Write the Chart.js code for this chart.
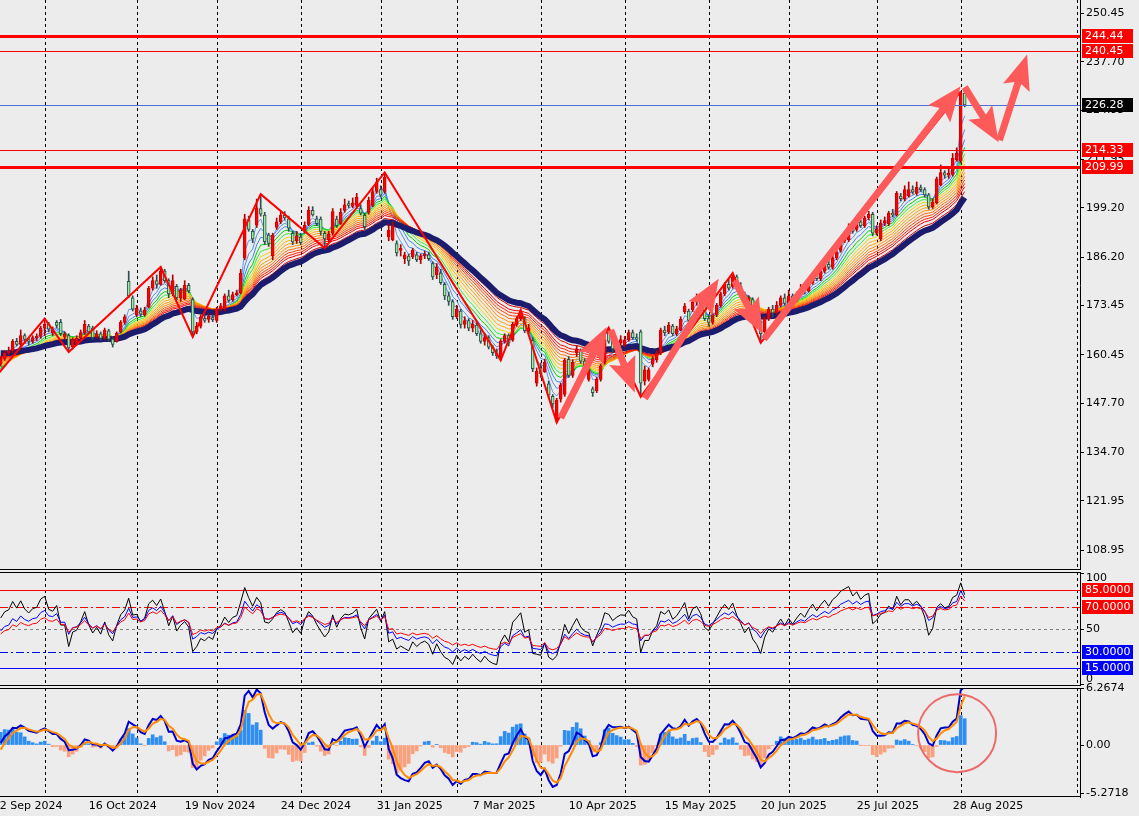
<!DOCTYPE html>
<html>
<head>
<meta charset="utf-8">
<script src="https://cdn.jsdelivr.net/npm/chart.js@4.4.1/dist/chart.umd.min.js"></script>
<style>
  html, body { margin: 0; padding: 0; background: #ececec; }
  body { width: 1139px; height: 816px; position: relative; overflow: hidden; }
  .pane { position: absolute; left: 0; width: 1139px; }
  #pMain { top: 0; height: 570px; }
  #pRsi { top: 564px; height: 122px; }
  #pMacd { top: 680px; height: 136px; }
</style>
</head>
<body>
<div class="pane" id="pMain"><canvas id="cMain"></canvas></div>
<div class="pane" id="pRsi"><canvas id="cRsi"></canvas></div>
<div class="pane" id="pMacd"><canvas id="cMacd"></canvas></div>
<script>
// closes before the first visible bar (only feed the averages)
const historyCloses = [167,168,166.5,167.5,169,170,168.5,167,166,167.5,168.5,167,165.5,164,165.5,166.5,165,164,165,166,
  165.5,164.5,163,164,165,163.5,162,163,161.5,160,161,159.5,158,156.5,155,153.5,152.5,154,155.5,157]

const opens = [158,159.5,161,161.5,164,163.2,165.5,164.5,164,165,
  165.3,167.5,168.5,166.2,169,169,165.2,165.5,162.5,163.5,
  165,166.2,168,167.5,165.2,166,164.8,166.8,164.6,164,
  166.5,169,179.8,175.5,171,172,171,173,178,180,
  179,182.5,180,176.5,178.5,175.5,175.2,178.8,175,166.5,
  168,170,169.8,170.3,169.5,172.5,172.5,176,175,176.3,
  176.8,186,196,193,194.6,199,197.3,192,186.5,194,
  195.5,197.2,196.3,192.5,190.5,191.5,193,194.8,198.5,196.3,
  196.2,192.5,190.8,192.5,196.2,195,198.5,200.3,199.6,199.8,
  199,197.2,198,199.8,203.5,204,203.5,191.5,190.8,189.8,
  188,185.8,186.5,186.3,186.8,185.5,186.5,186.8,184.5,181.5,
  182,179,176,174.5,170.5,172,168.5,169.5,167.5,168.3,
  166,164,165,162.5,161,160,164,165.5,164.3,168.5,
  170,170,166.8,164.2,153,157,156,152.8,149.5,143.5,
  148.8,150,159.3,155,161,161.5,158.8,154,151.5,151,
  154,158.5,167,164,162,163.5,163,164.4,166.3,165,
  166.5,153.5,154,158,159.2,161,167,166.5,168,166,
  167,171.8,172,172.3,174.3,175.5,173.5,170,169,171,
  173.5,176.5,179,178.5,181,178.5,176.5,174,175,172,
  169,166.5,170,172.5,171.5,173.5,175.5,174,176,174.8,
  176.5,178,177.3,179.5,181.5,180.5,182.5,184.3,183.5,186,
  188,190.5,190.8,194.2,193.5,195.5,194.5,196.5,197.5,192.5,
  191,195.2,195,197.8,197.3,202.3,201.5,202.3,204,203,
  204.5,204,202.6,199.4,200.5,205.2,208.5,207.8,208,211.8,
  211.5,229.4]

const highs = [160,161.5,162.5,164.5,164.8,167,166,165,165.5,166,
  168,170,169,167.8,169.5,169.8,166.5,166,165,165.5,
  167,169.5,168.5,168,166.8,166.5,167.5,167.2,165,166.5,
  169.5,171,182.5,176,173.5,172.8,173,178.5,181,181.5,
  183.6,183,180.5,181.5,179,178,180,179.3,175.5,169,
  171,171,171.3,171,173,174,176.5,177.5,177,177.5,
  183,197.5,197,193.5,201.5,202.8,198,192.5,192.5,196.5,
  198,198.2,197,193,193,192.5,195.5,199.5,199.5,197,
  196.8,193,193,199,197,199,201.5,201,201.8,203,
  200,197.8,202,204.5,207,205,208.5,195,195.5,190.5,
  189.5,187.5,187,188.5,187.5,187,187.8,187.5,185,184.5,
  183,179.5,177,175,173.5,172.5,170.5,170,169.5,169,
  167,166,165.5,163,162,164.5,166,166,169,170.5,
  172.3,170.5,168.5,165,157,158.3,159.3,153.5,150,149,
  153,159.5,160,159.2,162.8,162,159.5,157,152,154.5,
  158,165.5,167.6,165,164.5,165.5,165.3,167,167,166,
  167,157.5,157,160,161.6,167.5,168,169,168.5,168,
  170.5,174,172.5,175,176.5,176,174,171,171.5,174,
  177,179.5,180.5,182,181.5,179.5,177,176,175.5,172.5,
  169.5,170.5,173,173.5,174.5,176,176.5,177.5,176.5,177,
  179,179,180,182,182.5,183.5,185,185.5,186.8,188.5,
  191.5,193,195,195.5,196.3,196,197,198.3,198,194.5,
  196,196.8,198.3,198.8,203.5,203,205,206,205,206,
  205.2,204.5,203,201.5,207.3,210.5,209,209.5,213.5,215,
  229.8,230]

const lows = [157.5,159,160.5,161,162.8,162.5,163.5,163,163.5,164.2,
  164.8,165.5,166.5,165.5,167.5,165.5,164.5,161.2,162,163,
  164.5,165.8,166,164.5,164.8,164.3,164.5,164,162.5,163.8,
  166.2,168.5,175.5,172,170.5,170.5,170.6,172.8,177.5,178,
  178.8,179.5,175.5,176,175,174.5,175,176.8,165.2,166,
  167.5,169,169,169.2,169,172,172,174.3,174.5,176,
  176.5,185.5,193,190,194,197,189.5,189,185.5,193.5,
  195,196,193,189.5,189.8,189.5,192.5,194.5,197,194.5,
  192,188.6,190.3,192,194,194.8,198,199.2,199.2,199.5,
  197.3,193.5,197.5,199.5,203,202,203,190.5,190.5,186.5,
  186.5,184.5,184,185.8,185,184.5,185.8,185.3,180.3,180.5,
  179,175,173.5,169.8,170,167.5,167.5,166.8,166.5,165.5,
  163.5,163,162,160.3,159.5,159,163.5,162.8,164,168,
  169.5,166.3,166,156,152.2,154.5,155.8,149,146.5,142.6,
  148,149.5,154.5,154.5,160,158.2,156,153.5,149.5,150.5,
  153.5,158,163.5,161,161.5,163,162.5,164,164.5,164,
  149.4,152.5,153.5,157.3,158.5,160.5,165.5,166,165.5,165.5,
  166.8,171.3,169,171.8,173.5,173,169.5,168,168.5,170.5,
  173,176,177.5,178,178,176,173.5,172.5,171.5,168,
  163.6,165.5,169.5,170.5,171,173,173.5,173.5,174,174.3,
  176,176.5,177,179,180,180,182,183,183,185.5,
  187.5,190,190.3,192.5,193,194,194,196,191.8,192,
  190.5,194.5,194.5,196.8,197,201,201,202,202.8,202.5,
  203.5,202,198.8,199,200.2,205,207,207,207.5,211.5,
  211,225.8]

const closes = [159.5,161,161.5,164,163.2,165.5,164.5,164,165,165.3,
  167.5,168.5,167.2,167,168.2,166,166,162.3,164.5,164.8,
  166.3,168.5,166.5,165,166,164.8,167,164.6,163.2,166.2,
  169,170.5,176,172.5,172.8,171.2,172.3,178,180,179,
  182.5,180,176.5,180,175.5,177.5,178.8,177.3,166.5,168,
  170.5,169.5,170.6,169.7,172.5,173.4,176,174.8,176.3,176.8,
  182,196.3,193.5,191,199.2,197.5,190.3,189.8,192,195.5,
  197.2,196.5,193.8,190.2,191.8,190,194.6,198.5,197.3,195,
  193,191,192.3,198.2,194.5,198,200,199.8,200.5,202,
  197.8,194.2,201.2,203.5,206,202.5,207.3,193.3,194.5,187.3,
  188.5,186.8,185.2,188,185.5,186.5,187,185.8,181,183.5,
  179.5,176,174.5,170.5,172.5,168.5,169.5,167.5,168.5,166,
  164,165,162.5,161,160.2,164,165.5,163.5,168.5,170,
  171.8,166.8,167.5,156.8,156.2,155.5,158.5,149.8,147.5,148.5,
  152.5,159,155,158.5,162,158.8,157,156.5,150.5,154,
  157.5,164.5,164,162,163.5,164.5,164.4,166.3,165,164.6,
  153,156.5,156.5,159.5,161,167,166.3,168.3,166,167.3,
  169.8,173.3,169.5,174.3,175.5,173.8,170,169,171,173.5,
  176.5,179,178,181,178.5,176.5,174,175.5,172,170,
  166,170,172.5,171.5,173.5,175.5,174,176,174.8,176.5,
  178,177.3,179.5,181.5,180.5,182.5,184.3,183.5,186,187.5,
  190.5,192.3,194.2,193,195.5,194.5,196.5,197.5,192.5,193.5,
  195.2,195.8,197.8,197.3,203,201.6,204,204,203.3,204.6,
  204,202.6,199.4,200.7,206.8,208.5,207.8,208.3,212.3,213.6,
  229.4,226.28]

const priceTicks = [250.45, 237.70, 224.95, 211.95, 199.20, 186.20, 173.45, 160.45, 147.70, 134.70, 121.95, 108.95]
const priceLevels = [244.44, 240.45, 226.28, 214.33, 209.99]
const rsiTicks = [100, 50, 0]
const rsiLevels = [85, 70, 50, 30, 15]
const macdTicks = [6.2674, 0, -5.2718]

const dateLabels = ['12 Sep 2024', '16 Oct 2024', '19 Nov 2024', '24 Dec 2024', '31 Jan 2025', '7 Mar 2025',
  '10 Apr 2025', '15 May 2025', '20 Jun 2025', '25 Jul 2025', '28 Aug 2025']
const labelBars = [-2, 22, 46, 70, 94, 118, 142, 166, 190, 214, 238]
const gridBars = [11, 34, 54, 75, 95, 114, 135, 156, 177, 197, 219, 240, 269]

const zigzagBars = [-3, 11, 17, 40, 48, 65, 81, 96, 125, 130, 139, 152, 160, 183, 190, 240]
const zigzagPrices = [152.5, 170, 161.2, 183.6, 165.2, 202.8, 188.6, 208.5, 159, 172.3, 142.6, 167.6, 149.4, 182, 163.6, 229.8]

// hand drawn arrows: from (bar, price) to (bar, price)
const arrowFromBars = [140, 152.5, 161, 183.5, 190.8, 241, 249.7]
const arrowFromPrices = [143.8, 167, 149, 180, 164.6, 231, 217]
const arrowToBars = [151.5, 158.5, 179.5, 190.5, 240, 249.5, 256.6]
const arrowToPrices = [167.8, 150.5, 180.5, 166, 231.2, 216.5, 239.6]

const circleBar = 239.1
const circleValue = 1.3

// ---------------------------------------------------------------
const ribbonPeriods = [3, 5, 7, 9, 11, 13, 15, 17, 19, 21, 23, 25, 27, 30]
const ribbonColors = ['#5b9cf2', '#4f8fea', '#3a86f0', '#00d000', '#33ee33', '#e8d800', '#ffb000', '#ffa000',
  '#ff9000', '#ff7000', '#ff4000', '#ff2000', '#f00000', '#d00000']
const navyPeriod = 34
const rsiPeriods = [21, 14, 7]
const macdFastLen = 4, macdSlowLen = 9, macdSignalLen = 3, macdHistLen = 9

const FONT = '"DejaVu Sans", sans-serif'
Chart.defaults.font.family = FONT
Chart.defaults.font.size = 11
Chart.defaults.color = '#000'
Chart.defaults.animation = false
Chart.defaults.events = []
Chart.defaults.plugins.legend.display = false
Chart.defaults.plugins.tooltip.enabled = false

const H = historyCloses.length
const allCloses = historyCloses.concat(closes)
const xMin = -0.175
const xMax = 269.825

const ema = (src, n) => {
    const a = 2 / (n + 1)
    const out = []
    let e = src[0]
    src.forEach((v, i) => {
        if (i > 0) e = e + a * (v - e)
        out.push(e)
    })
    return out
}

const rsi = (src, n) => {
    const out = new Array(src.length).fill(null)
    let g = 0, l = 0
    for (let i = 1; i <= n; i++) {
        const d = src[i] - src[i - 1]
        if (d > 0) g += d; else l -= d
    }
    g /= n; l /= n
    out[n] = 100 - 100 / (1 + g / l)
    for (let i = n + 1; i < src.length; i++) {
        const d = src[i] - src[i - 1]
        g = (g * (n - 1) + Math.max(d, 0)) / n
        l = (l * (n - 1) + Math.max(-d, 0)) / n
        out[i] = l === 0 ? 100 : 100 - 100 / (1 + g / l)
    }
    return out
}

const visible = arr => arr.slice(H).map((v, i) => ({x: i, y: v}))

const xScale = {
    type: 'linear', min: xMin, max: xMax, display: false, offset: false
}

const rightAxis = (min, max, ticks, fmt, showLabels) => ({
    position: 'right', min: min, max: max,
    afterBuildTicks: s => { s.ticks = ticks.map(v => ({value: v})) },
    afterFit: s => { s.width = 59; s.paddingTop = 0; s.paddingBottom = 0 },
    ticks: {autoSkip: false, padding: 2, color: '#000', callback: fmt, display: showLabels},
    grid: {drawOnChartArea: false, tickLength: 4, color: '#000'},
    border: {display: true, color: '#000'}
})

const vGrid = {
    id: 'vGrid',
    beforeDatasetsDraw(chart) {
        const {ctx, chartArea} = chart
        const sx = chart.scales.x
        ctx.save()
        ctx.strokeStyle = '#000'
        ctx.lineWidth = 1
        ctx.setLineDash([3, 3])
        gridBars.forEach(b => {
            const px = Math.round(sx.getPixelForValue(b)) + 0.5
            ctx.beginPath()
            ctx.moveTo(px, chartArea.top)
            ctx.lineTo(px, chartArea.bottom)
            ctx.stroke()
        })
        ctx.restore()
    }
}

const frameLines = (withTop) => ({
    id: 'frame',
    afterDraw(chart) {
        const {ctx, chartArea} = chart
        ctx.save()
        ctx.strokeStyle = '#000'
        ctx.lineWidth = 1
        ctx.beginPath()
        if (withTop) {
            ctx.moveTo(0, chartArea.top + 0.5)
            ctx.lineTo(chartArea.right, chartArea.top + 0.5)
        }
        ctx.moveTo(0, chartArea.bottom - 0.5)
        ctx.lineTo(chartArea.right, chartArea.bottom - 0.5)
        ctx.stroke()
        ctx.restore()
    }
})

const drawTag = (ctx, x, y, text, bg) => {
    const yy = Math.round(y)
    ctx.fillStyle = bg
    ctx.fillRect(x, yy - 7, 51, 14)
    ctx.fillStyle = '#fff'
    ctx.font = '11px ' + FONT
    ctx.textAlign = 'left'
    ctx.textBaseline = 'middle'
    ctx.fillText(text, x + 3, yy + 0.5)
}

const drawArrow = (ctx, x0, y0, x1, y1, sw, hl, hw) => {
    const len = Math.hypot(x1 - x0, y1 - y0)
    const ux = (x1 - x0) / len, uy = (y1 - y0) / len
    const nx = -uy, ny = ux
    const bx = x1 - ux * hl, by = y1 - uy * hl
    ctx.beginPath()
    ctx.moveTo(x0 + nx * sw / 2, y0 + ny * sw / 2)
    ctx.lineTo(bx + nx * sw / 2, by + ny * sw / 2)
    ctx.lineTo(bx + nx * hw / 2 - ux * 5, by + ny * hw / 2 - uy * 5)
    ctx.lineTo(x1, y1)
    ctx.lineTo(bx - nx * hw / 2 - ux * 5, by - ny * hw / 2 - uy * 5)
    ctx.lineTo(bx - nx * sw / 2, by - ny * sw / 2)
    ctx.lineTo(x0 - nx * sw / 2, y0 - ny * sw / 2)
    ctx.closePath()
    ctx.fill()
}

// ---------------- main price window ----------------
const levelStyles = [
    {color: '#ff0000', width: 3, tag: '#ff0000'},
    {color: '#ff0000', width: 1, tag: '#ff0000'},
    {color: '#4f6fd8', width: 1, tag: '#000000'},
    {color: '#ff0000', width: 1, tag: '#ff0000'},
    {color: '#ff0000', width: 3, tag: '#ff0000'}
]

const mainOverlay = {
    id: 'mainOverlay',
    afterDatasetsDraw(chart) {
        const {ctx, chartArea} = chart
        const sx = chart.scales.x, sy = chart.scales.y
        ctx.save()
        priceLevels.forEach((v, k) => {
            const st = levelStyles[k]
            const py = Math.round(sy.getPixelForValue(v)) + (st.width % 2 ? 0.5 : 0)
            ctx.strokeStyle = st.color
            ctx.lineWidth = st.width
            ctx.beginPath()
            ctx.moveTo(chartArea.left, py)
            ctx.lineTo(chartArea.right, py)
            ctx.stroke()
        })
        ctx.fillStyle = '#ff5a5a'
        arrowFromBars.forEach((b, k) => {
            drawArrow(ctx,
                sx.getPixelForValue(b), sy.getPixelForValue(arrowFromPrices[k]),
                sx.getPixelForValue(arrowToBars[k]), sy.getPixelForValue(arrowToPrices[k]),
                7, 30, 28)
        })
        ctx.restore()
    },
    afterDraw(chart) {
        const {ctx, chartArea} = chart
        const sy = chart.scales.y
        ctx.save()
        priceLevels.forEach((v, k) => {
            drawTag(ctx, chartArea.right + 2, sy.getPixelForValue(v), v.toFixed(2), levelStyles[k].tag)
        })
        ctx.restore()
    }
}

const ribbonSets = ribbonPeriods.map((p, k) => ({
    type: 'line',
    data: visible(ema(allCloses, p)),
    borderColor: ribbonColors[k],
    borderWidth: 1,
    pointRadius: 0,
    order: 40 - k
}))

const isUp = closes.map((c, i) => c >= opens[i])

new Chart(document.getElementById('cMain'), {
    type: 'bar',
    data: {
        datasets: [
            ...ribbonSets,
            {
                type: 'line',
                data: visible(ema(allCloses, navyPeriod)),
                borderColor: '#1c1c6e',
                borderWidth: 6,
                pointRadius: 0,
                order: 5
            },
            {
                data: closes.map((c, i) => ({x: i, y: [lows[i], highs[i]]})),
                backgroundColor: isUp.map(u => u ? '#b00000' : '#2f4f4f'),
                barThickness: 1,
                grouped: false,
                order: 3
            },
            {
                data: closes.map((c, i) => ({x: i, y: [Math.min(opens[i], c), Math.max(opens[i], c)]})),
                backgroundColor: isUp.map(u => u ? '#ff0000' : '#98ee98'),
                borderColor: isUp.map(u => u ? '#d00000' : '#2f4f4f'),
                borderWidth: 1,
                borderSkipped: false,
                barThickness: 3,
                minBarLength: 1,
                grouped: false,
                order: 2
            },
            {
                type: 'line',
                data: zigzagBars.map((b, k) => ({x: b, y: zigzagPrices[k]})),
                borderColor: '#ff0000',
                borderWidth: 2,
                pointRadius: 0,
                order: 1
            }
        ]
    },
    options: {
        responsive: true,
        maintainAspectRatio: false,
        layout: {padding: 0},
        scales: {
            x: xScale,
            y: rightAxis(103.757, 253.955, priceTicks, v => v.toFixed(2), true)
        }
    },
    plugins: [vGrid, mainOverlay, frameLines(false)]
})

// ---------------- RSI window ----------------
const rsiStyles = [
    {color: '#ff0000', dash: [], tag: '#ff0000'},
    {color: '#ff0000', dash: [8, 3, 2, 3], tag: '#ff0000'},
    {color: '#808080', dash: [3, 3], tag: null},
    {color: '#0000ff', dash: [8, 3, 2, 3], tag: '#0000ff'},
    {color: '#0000ff', dash: [], tag: '#0000ff'}
]

const rsiOverlay = {
    id: 'rsiOverlay',
    beforeDatasetsDraw(chart) {
        const {ctx, chartArea} = chart
        const sy = chart.scales.y
        ctx.save()
        rsiLevels.forEach((v, k) => {
            const py = Math.round(sy.getPixelForValue(v)) + 0.5
            ctx.strokeStyle = rsiStyles[k].color
            ctx.setLineDash(rsiStyles[k].dash)
            ctx.lineWidth = 1
            ctx.beginPath()
            ctx.moveTo(chartArea.left, py)
            ctx.lineTo(chartArea.right, py)
            ctx.stroke()
        })
        ctx.restore()
    },
    afterDraw(chart) {
        const {ctx, chartArea} = chart
        const sy = chart.scales.y
        ctx.save()
        // axis numbers are kept inside the window, as the terminal does
        ctx.font = '11px ' + FONT
        ctx.fillStyle = '#000'
        ctx.textAlign = 'left'
        ctx.textBaseline = 'middle'
        rsiTicks.forEach(v => {
            const py = Math.min(Math.max(sy.getPixelForValue(v), chartArea.top + 6), chartArea.bottom - 7)
            ctx.fillText(String(v), chartArea.right + 6, py)
        })
        rsiLevels.forEach((v, k) => {
            if (rsiStyles[k].tag) drawTag(ctx, chartArea.right + 2, sy.getPixelForValue(v), v.toFixed(4), rsiStyles[k].tag)
        })
        ctx.restore()
    }
}

const rsiColors = ['#ff0000', '#0000ff', '#000000']

new Chart(document.getElementById('cRsi'), {
    type: 'line',
    data: {
        datasets: rsiPeriods.map((n, k) => ({
            data: visible(rsi(allCloses, n)),
            borderColor: rsiColors[k],
            borderWidth: 1,
            pointRadius: 0
        }))
    },
    options: {
        responsive: true,
        maintainAspectRatio: false,
        layout: {padding: {top: 8}},
        scales: {
            x: xScale,
            y: rightAxis(-0.9, 101.4, rsiTicks, v => String(v), false)
        }
    },
    plugins: [vGrid, rsiOverlay, frameLines(true)]
})

// ---------------- MACD window ----------------
const emaFast = ema(allCloses, macdFastLen)
const emaSlow = ema(allCloses, macdSlowLen)
const macdMain = emaFast.map((v, i) => v - emaSlow[i])
const macdSignal = ema(macdMain, macdSignalLen)
const macdBase = ema(macdMain, macdHistLen)
const macdHist = macdMain.map((v, i) => v - macdBase[i])

const circle = {
    id: 'circle',
    afterDatasetsDraw(chart) {
        const {ctx} = chart
        const px = chart.scales.x.getPixelForValue(circleBar)
        const py = chart.scales.y.getPixelForValue(circleValue)
        ctx.save()
        ctx.strokeStyle = '#ee6a6a'
        ctx.lineWidth = 2
        ctx.beginPath()
        ctx.arc(px, py, 39, 0, Math.PI * 2)
        ctx.stroke()
        ctx.restore()
    }
}

new Chart(document.getElementById('cMacd'), {
    type: 'bar',
    data: {
        datasets: [
            {
                data: visible(macdHist),
                backgroundColor: macdHist.slice(H).map(v => v >= 0 ? '#2e8ff0' : '#f9a07e'),
                barThickness: 3,
                grouped: false,
                order: 3
            },
            {
                type: 'line',
                data: visible(macdMain),
                borderColor: '#0000cd',
                borderWidth: 2,
                pointRadius: 0,
                order: 2
            },
            {
                type: 'line',
                data: visible(macdSignal),
                borderColor: '#ff8c00',
                borderWidth: 2,
                pointRadius: 0,
                order: 1
            }
        ]
    },
    options: {
        responsive: true,
        maintainAspectRatio: false,
        layout: {padding: {top: 8}},
        scales: {
            x: {
                type: 'linear', min: xMin, max: xMax, offset: false,
                afterBuildTicks: s => { s.ticks = labelBars.map(v => ({value: v})) },
                afterFit: s => { s.height = 19; s.paddingLeft = 0; s.paddingRight = 0 },
                ticks: {
                    autoSkip: false, maxRotation: 0, minRotation: 0, align: 'start', padding: 3,
                    color: '#000', callback: (v, i) => dateLabels[i]
                },
                grid: {display: false, drawTicks: false},
                border: {display: false}
            },
            y: rightAxis(-5.71, 6.2674, macdTicks, v => v === 0 ? '0.00' : v.toFixed(4), true)
        }
    },
    plugins: [vGrid, circle, frameLines(true)]
})
</script>
</body>
</html>
